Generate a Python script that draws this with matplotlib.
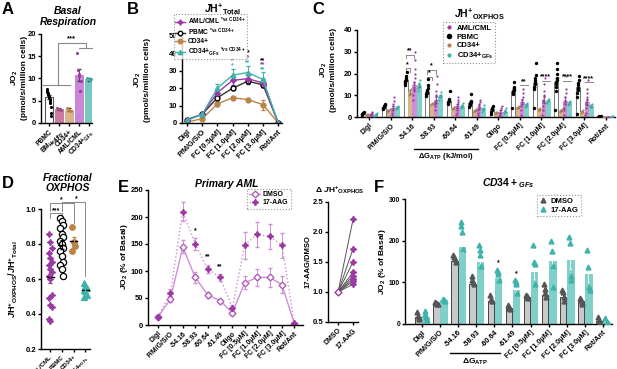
import numpy as np
import matplotlib
matplotlib.use("Agg")
import matplotlib.pyplot as plt
from matplotlib.lines import Line2D

plt.rcParams.update({
    'font.family': ['Liberation Sans', 'DejaVu Sans'],
    'font.weight': 'bold',
    'axes.labelweight': 'bold',
    'mathtext.fontset': 'custom',
    'mathtext.rm': 'Liberation Sans:bold',
    'mathtext.it': 'Liberation Sans:italic:bold',
    'mathtext.bf': 'Liberation Sans:bold',
    'mathtext.default': 'rm',
    'axes.linewidth': 1.0,
    'xtick.major.width': 1.0, 'ytick.major.width': 1.0,
    'xtick.major.size': 2.5, 'ytick.major.size': 2.5,
    'xtick.major.pad': 1.2, 'ytick.major.pad': 1.0,
    'xtick.labelsize': 5, 'ytick.labelsize': 5.5,
})

# ---------------- DATA ----------------
# Panel A
a_cats = ["PBMC", "BM$_{Healthy}$", "CD34+", "AML/CML", "CD34+$_{GFs}$"]
a_mean = [5.8, 3.1, 3.0, 10.8, 9.8]
a_sem = [0.5, 0.2, 0.3, 1.3, 0.3]
a_pts = [[7.6, 7.3, 7.0, 6.8, 6.6, 6.3, 6.0, 5.7, 5.4, 5.0, 4.6, 3.6, 2.3, 1.6],
         [3.3, 3.1, 2.9],
         [3.3, 3.0, 2.7],
         [15.7, 12.0, 11.0, 10.5, 7.1, 9.5],
         [10.2, 9.8, 9.6, 9.9]]

# Panel B
b_cats = ["Digl", "P/M/G/S/O", "FC [0.5\u03bcM]", "FC [1.0\u03bcM]", "FC [2.0\u03bcM]", "FC [3.0\u03bcM]", "Rot/Ant"]
b_aml = [1.8, 5.0, 17.5, 24.5, 25.5, 23.0, 0.2]
b_aml_err = [0.3, 0.5, 1.5, 2.5, 2.5, 2.5, 0.1]
b_pbmc = [2.0, 5.0, 14.5, 20.0, 24.0, 22.0, 0.2]
b_pbmc_err = [0.3, 0.5, 1.0, 1.0, 1.5, 1.5, 0.1]
b_cd34 = [0.5, 2.5, 11.0, 14.5, 13.5, 10.5, 0.1]
b_cd34_err = [0.2, 0.4, 1.0, 0.8, 0.8, 3.0, 0.1]
b_gfs = [1.5, 5.0, 20.0, 27.5, 29.0, 25.0, 0.2]
b_gfs_err = [0.3, 0.5, 2.5, 3.5, 4.0, 4.5, 0.1]

# Panel C
c_cats = ["Digl", "P/M/G/S/O", "-54.16", "-58.93", "-60.64", "-61.49", "Oligo",
          "FC [0.5\u03bcM]", "FC [1.0\u03bcM]", "FC [2.0\u03bcM]", "FC [3.0\u03bcM]", "Rot/Ant"]
c_pbmc = [1.5, 4.5, 17.0, 11.5, 7.5, 6.5, 3.5, 12.0, 15.5, 16.0, 14.0, 0.3]
c_cd34 = [1.0, 3.0, 11.5, 6.0, 4.0, 3.0, 2.0, 4.5, 3.5, 3.0, 2.5, 0.1]
c_aml = [1.2, 4.0, 14.5, 8.0, 5.0, 4.5, 2.5, 7.0, 8.0, 7.5, 7.0, 0.1]
c_gfs = [1.0, 4.5, 14.5, 9.5, 5.0, 3.5, 2.5, 5.5, 7.5, 6.5, 5.0, 0.2]
c_pbmc_pts = [[0.8, 1.2, 1.5, 1.8, 2.0, 2.2], [3.5, 4.0, 4.5, 5.0, 5.5, 6.0],
              [14.5, 15.5, 16.0, 16.5, 17.0, 17.5, 18.0, 19.0, 20.5],
              [9.5, 10.5, 11.0, 11.5, 12.0, 12.5, 13.5, 14.5, 17.5],
              [6.0, 6.5, 7.0, 7.5, 8.0, 8.5, 12.0], [4.5, 5.5, 6.0, 6.5, 7.0, 7.5, 10.5],
              [1.5, 2.5, 3.0, 3.5, 4.0, 5.0], [4.0, 10.5, 11.0, 12.0, 12.5, 13.0, 14.0, 16.0],
              [4.0, 13.0, 14.0, 15.0, 16.0, 17.0, 18.0, 19.5, 25.0],
              [3.0, 12.0, 14.0, 15.0, 16.0, 17.0, 18.0, 20.0, 22.0, 25.0],
              [1.5, 9.0, 11.0, 12.5, 13.5, 14.5, 15.5, 17.0, 19.0], [0.1, 0.3, 0.5]]
c_cd34_pts = [[0.6, 1.0, 1.4], [2.5, 3.0, 3.5], [10.0, 11.5, 13.0], [5.5, 6.0, 6.5],
              [3.5, 4.0, 4.5], [2.5, 3.0, 3.5], [1.5, 2.0, 2.5], [4.0, 4.5, 5.0],
              [3.0, 3.5, 4.0], [2.5, 3.0, 3.5], [2.0, 2.5, 3.0], [0.0, 0.1, 0.2]]
c_aml_pts = [[0.3, 0.8, 1.0, 1.5, 2.0, 2.5], [1.0, 2.0, 3.0, 4.0, 5.0, 6.0, 7.5, 9.0],
             [8, 10, 12, 13, 14, 15, 16, 18, 20, 22, 26, 30], [3, 5, 6, 7, 8, 9, 10, 12, 15, 19],
             [1, 2, 3, 4, 5, 6, 7, 8, 9], [1, 2, 3, 4, 5, 6, 7, 8], [0.5, 1, 2, 3, 4, 5],
             [1, 3, 5, 6, 7, 8, 9, 11, 13], [1, 3, 5, 7, 8, 9, 10, 12, 15, 18],
             [1, 3, 4, 6, 7, 8, 9, 11, 13, 19], [1, 2, 4, 6, 7, 8, 9, 11, 13, 17], [0, 0.1, 0.2]]
c_gfs_pts = [[0.5, 1.0, 1.2, 1.5, 2.0], [3.8, 4.2, 4.5, 4.8, 5.0], [12, 13.5, 14.5, 15.5, 17],
             [8, 9, 9.5, 10, 11.5], [4, 4.5, 5, 5.5, 6.5], [2.5, 3, 3.5, 4, 5.5], [2, 2.5, 2.8, 3, 4],
             [4.5, 5, 5.5, 6, 6.5], [6.5, 7, 7.5, 8, 8.5], [5.5, 6, 6.5, 7, 7.5], [4.5, 5, 5, 5.5, 6],
             [0.1, 0.2, 0.3]]

# Panel D
d_cats = ["AML/CML", "PBMC", "CD34+", "CD34+$_{GFs}$"]
d_aml = [0.86, 0.81, 0.78, 0.75, 0.72, 0.70, 0.68, 0.66, 0.64, 0.62, 0.60, 0.51, 0.49, 0.45, 0.44, 0.37, 0.36]
d_pbmc = [0.95, 0.93, 0.91, 0.89, 0.86, 0.84, 0.82, 0.80, 0.78, 0.76, 0.73, 0.70, 0.68, 0.66, 0.62]
d_cd34 = [0.90, 0.81, 0.79, 0.76]
d_gfs = [0.58, 0.56, 0.55, 0.54, 0.53, 0.51, 0.50]

# Panel E
e_cats = c_cats
e_dmso = [15, 48, 145, 88, 56, 45, 23, 78, 88, 88, 75, 2]
e_dmso_err = [3, 6, 12, 10, 6, 4, 4, 12, 16, 18, 16, 1]
e_aag = [15, 60, 210, 150, 104, 88, 32, 148, 168, 164, 148, 3]
e_aag_err = [3, 7, 17, 12, 8, 6, 5, 25, 23, 23, 23, 1]
e_right_cats = ["DMSO", "17-AAG"]
e_right_aag = [2.21, 1.72, 1.50, 1.33, 1.27, 1.22, 1.18, 1.13]

# Panel F
f_cats = ["Digl", "P/M/G/S/O", "-54.16", "-58.93", "-60.64", "-61.49",
          "FC [0.5\u03bcM]", "FC [1.0\u03bcM]", "FC [2.0\u03bcM]", "FC [3.0\u03bcM]", "Rot/Ant"]
f_dmso = [18, 50, 152, 95, 55, 38, 64, 70, 66, 56, 8]
f_aag = [18, 57, 186, 150, 110, 82, 126, 152, 154, 121, 5]
f_dmso_pts = [[30, 20, 15, 12], [53, 50, 48, 47], [165, 160, 155, 150], [115, 105, 100, 95],
              [70, 60, 55], [45, 42, 38, 35], [70, 68, 65, 62], [95, 85, 75, 65],
              [82, 78, 65, 55], [62, 58, 52, 48], [18, 10, 5, 2]]
f_aag_pts = [[32, 25, 18, 10], [60, 58, 56], [245, 235, 220, 180], [190, 178, 165, 140],
             [130, 125, 120, 105], [105, 100, 95, 75], [190, 150, 145, 95], [200, 175, 140, 90],
             [208, 195, 115, 105], [177, 137, 88, 82], [15, 5, 2]]

# ---------------- STYLE ----------------
MAG = "#9b3aa3"
MAG_L = "#cf8fd8"
TEAL = "#3fb3aa"
TEAL_L = "#7fd0c8"
TAN = "#b98448"
TAN_L = "#d8b58c"
ROSE = "#c97ca0"
GRAY_L = "#c9c9c9"
LAB = 6
LEG = 5

W, H = 617, 369
fig = plt.figure(figsize=(W / 100, H / 100), dpi=100)


def axpx(l, r, t, b):
    ax = fig.add_axes([l / W, 1 - b / H, (r - l) / W, (b - t) / H])
    ax.spines[['top', 'right']].set_visible(False)
    ax.patch.set_alpha(0)
    return ax


def ftext(x, y, s, **kw):
    return fig.text(x / W, 1 - y / H, s, **kw)


def rot_labels(ax, labels, fs=5):
    ax.set_xticks(np.arange(len(labels)))
    ax.set_xticklabels(labels, rotation=45, ha='right', rotation_mode='anchor', fontsize=fs)


def spread(n, w):
    if n == 1:
        return np.zeros(1)
    return np.linspace(-w, w, n)


def sem(v):
    v = np.asarray(v, float)
    return v.std() / np.sqrt(len(v))


def dotted_legend(handles, labels, x, y, fs=LEG, **kw):
    opts = dict(loc='upper left', bbox_to_anchor=(x / W, 1 - y / H), fontsize=fs, frameon=True, fancybox=False,
                edgecolor='#777777', borderpad=0.3, labelspacing=0.25, handlelength=1.6, handletextpad=0.4,
                borderaxespad=0)
    opts.update(kw)
    leg = fig.legend(handles, labels, **opts)
    leg.get_frame().set_linestyle(':')
    leg.get_frame().set_linewidth(0.8)
    return leg


JO2 = r"$\mathit{J}$O$_2$"

# ---------------- A ----------------
axA = axpx(41, 92, 34, 123)
xa = np.arange(len(a_cats))
a_fill = ["white", ROSE, TAN_L, "#c987d6", "#72c9c1"]
a_dot = ["black", "#a0507a", TAN, MAG, TEAL]
axA.bar(xa, a_mean, width=0.72, color=a_fill, edgecolor=["#555555", ROSE, TAN_L, "#c987d6", "#72c9c1"],
        linewidth=0.8)
axA.errorbar(xa, a_mean, yerr=a_sem, fmt='none', ecolor="#444444", capsize=1.5, elinewidth=0.7)
for i, pts in enumerate(a_pts):
    axA.scatter(i + spread(len(pts), 0.22), pts, s=5, color=a_dot[i], zorder=3, linewidths=0)
axA.set_xlim(-0.8, 4.3)
axA.set_ylim(0, 20)
axA.set_yticks([0, 5, 10, 15, 20])
rot_labels(axA, a_cats, fs=4.8)
bk = dict(color="#888888", lw=0.8, clip_on=False)
axA.plot([-0.6, 2.1], [8.6, 8.6], **bk)
axA.plot([0.9, 0.9, 3.7, 3.7], [8.6, 18.0, 18.0, 16.9], **bk)
axA.plot([3.0, 4.3], [16.9, 16.9], **bk)
axA.text(2.2, 18.1, "***", ha='center', va='bottom', fontsize=5.5)
ftext(19, 78, JO2 + "\n(pmol/s/million cells)", rotation=90, ha='center', va='center', fontsize=LAB,
      linespacing=1.25)
ftext(68, 16.5, "Basal\nRespiration", ha='center', va='center', fontsize=7.5, style='italic', linespacing=1.1)

# ---------------- B ----------------
axB = axpx(182, 282, 36, 123)
xb = np.arange(len(b_cats))
star4 = (4, 1, 0)
axB.errorbar(xb, b_cd34, yerr=b_cd34_err, color=TAN, marker='o', ms=3.5, lw=1, capsize=1.5, elinewidth=0.7)
axB.errorbar(xb, b_pbmc, yerr=b_pbmc_err, color='#333333', marker='o', ms=3.5, mfc='white', mec='black', mew=1,
             lw=1, capsize=1.5, elinewidth=0.7)
axB.errorbar(xb, b_aml, yerr=b_aml_err, color=MAG, marker=star4, ms=4.5, lw=1, capsize=1.5, elinewidth=0.7)
axB.errorbar(xb, b_gfs, yerr=b_gfs_err, color=TEAL, marker='^', ms=3.5, lw=1, capsize=1.5, elinewidth=0.7)
axB.set_xlim(-0.33, 6.25)
axB.set_ylim(0, 50)
axB.set_yticks([0, 10, 20, 30, 40, 50])
rot_labels(axB, b_cats, fs=5.3)
for (xi, yi, s, c) in [(3, 36.0, "*", MAG), (3, 32.8, "*", TEAL), (4, 40.3, "*", "black"), (4, 37.3, "**", MAG),
                        (4, 34.5, "**", TEAL), (5, 36.0, "**", "black"), (5, 33.2, "**", MAG), (5, 30.5, "**", TEAL)]:
    axB.text(xi, yi, s, color=c, ha='center', va='center', fontsize=4.8)
ftext(142, 80, JO2 + "\n(pmol/s/million cells)", rotation=90, ha='center', va='center', fontsize=LAB,
      linespacing=1.25)
ftext(222, 9, r"$\mathit{J}$H$^{+}$$_{Total}$", ha='center', va='center', fontsize=7.5)
hB = [Line2D([], [], color=MAG, marker=star4, ms=4, lw=1),
      Line2D([], [], color='#333333', marker='o', ms=3.2, mfc='white', mec='black', lw=1),
      Line2D([], [], color=TAN, marker='o', ms=3.2, lw=1),
      Line2D([], [], color=TEAL, marker='^', ms=3.2, lw=1)]
lB = [r"AML/CML $^{*vs\ CD34+}$", r"PBMC $^{*vs\ CD34+}$", "CD34+", r"CD34+$_{GFs}$ $^{*vs\ CD34+}$"]
dotted_legend(hB, lB, 174, 14, fs=4.8, labelspacing=0.02, borderpad=0.2, handlelength=1.5)

# ---------------- C ----------------
axC = axpx(357, 615, 30, 117)
xc = np.arange(len(c_cats))
bw = 0.18
series_c = [(c_pbmc, c_pbmc_pts, -0.3, "white", "#777777", "black"),
            (c_cd34, c_cd34_pts, -0.1, TAN_L, TAN_L, TAN),
            (c_aml, c_aml_pts, 0.1, MAG_L, MAG_L, MAG),
            (c_gfs, c_gfs_pts, 0.3, TEAL_L, TEAL_L, TEAL)]
for means, pts, off, fc, ec, dc in series_c:
    axC.bar(xc + off, means, width=bw, color=fc, edgecolor=ec, linewidth=0.7)
    axC.errorbar(xc + off, means, yerr=[sem(p) for p in pts], fmt='none', ecolor="#555555", capsize=0.8,
                 elinewidth=0.5)
    for i, p in enumerate(pts):
        ms = 6 if dc == "black" else 2.5
        axC.scatter(i + off + spread(len(p), 0.05), p, s=ms, color=dc, zorder=3, linewidths=0)
axC.set_xlim(-0.56, 11.42)
axC.set_ylim(0, 40)
axC.set_yticks([0, 10, 20, 30, 40])
rot_labels(axC, c_cats)
bkc = dict(color="#888888", lw=0.7, clip_on=False)
for (i, y1, y2, s) in [(2, 28.5, 22.3, ("**", "*")), (3, 21.5, 18.3, ("*", "*"))]:
    axC.plot([i - 0.3, i - 0.3, i + 0.1, i + 0.1], [y1 - 1.5, y1, y1, y1 - 1.5], **bkc)
    axC.text(i - 0.1, y1 + 0.3, s[0], ha='center', va='bottom', fontsize=5)
    axC.plot([i - 0.3, i - 0.3, i - 0.1, i - 0.1], [y2 - 1.5, y2, y2, y2 - 1.5], **bkc)
    axC.text(i - 0.2, y2 + 0.3, s[1], ha='center', va='bottom', fontsize=5)
for (i, y, s) in [(7, 14.5, "**"), (8, 16.5, "****"), (9, 16.5, "****"), (10, 16.0, "****")]:
    axC.plot([i + 0.02, i + 0.38], [y, y], **bkc)
    axC.text(i + 0.2, y + 0.2, s, ha='center', va='bottom', fontsize=5)
ftext(328, 70, JO2 + "\n(pmol/s/million cells)", rotation=90, ha='center', va='center', fontsize=LAB,
      linespacing=1.25)
ftext(479, 14, r"$\mathit{J}$H$^{+}$$_{OXPHOS}$", ha='center', va='center', fontsize=7.5)
fig.add_artist(Line2D([414 / W, 478 / W], [1 - 149 / H, 1 - 149 / H], color='black', lw=1))
ftext(446, 157, r"$\Delta$G$_{ATP}$ (kJ/mol)", ha='center', va='center', fontsize=5.5)
hC = [Line2D([], [], ls='', marker='o', ms=2, color=MAG),
      Line2D([], [], ls='', marker='o', ms=3, color='black'),
      Line2D([], [], ls='', marker='o', ms=2, color=TAN),
      Line2D([], [], ls='', marker='o', ms=2, color=TEAL)]
dotted_legend(hC, ["AML/CML", "PBMC", "CD34+", r"CD34+$_{GFs}$"], 443, 22, fs=5.5, handlelength=1.0,
              handletextpad=0.5, labelspacing=0.2)

# ---------------- D ----------------
axD = axpx(41, 90, 209, 349)
d_sets = [(d_aml, MAG, star4, MAG, 4.5), (d_pbmc, 'white', 'o', 'black', 4.5),
          (d_cd34, TAN, 'o', TAN, 4), (d_gfs, TEAL, '^', TEAL, 4)]
for i, (vals, fc, mk, ec, ms) in enumerate(d_sets):
    n = len(vals)
    xs = i + np.array([((k % 3) - 1) * 0.13 for k in range(n)])
    axD.plot(xs, vals, ls='', marker=mk, mfc=fc, mec=ec, ms=ms, mew=0.9, zorder=3)
    m = np.mean(vals)
    axD.plot([i - 0.3, i + 0.3], [m, m], color='black', lw=1, zorder=4)
    axD.errorbar([i], [m], yerr=[sem(vals)], fmt='none', ecolor=ec if ec != 'white' else 'black', capsize=1.5,
                 elinewidth=0.8, zorder=4)
axD.set_xlim(-0.77, 3.4)
axD.set_ylim(0.2, 1.0)
axD.set_yticks([0.2, 0.4, 0.6, 0.8, 1.0])
axD.set_yticklabels(["0.2", "0.4", "0.6", "0.8", "1.0"])
rot_labels(axD, d_cats, fs=4.3)
bkd = dict(color="#888888", lw=0.7, clip_on=False)
axD.plot([0, 0, 1, 1], [0.95, 0.975, 0.975, 0.95], **bkd)
axD.text(0.5, 0.972, "***", ha='center', va='bottom', fontsize=5)
axD.plot([0, 0, 2, 2], [0.99, 1.035, 1.035, 0.92], **bkd)
axD.text(1.0, 1.035, "*", ha='center', va='bottom', fontsize=5)
axD.plot([1, 1, 3, 3], [0.99, 1.04, 1.04, 0.62], **bkd)
axD.text(2.2, 1.04, "*", ha='center', va='bottom', fontsize=5)
ftext(13, 279, r"$\mathit{J}$H$^{+}$$_{OXPHOS}$/$\mathit{J}$H$^{+}$$_{Total}$", rotation=90, ha='center',
      va='center', fontsize=6.5)
ftext(68, 183, "Fractional\nOXPHOS", ha='center', va='center', fontsize=7.5, style='italic', linespacing=1.1)

# ---------------- E main ----------------
axE = axpx(148, 303, 190, 325)
xe = np.arange(len(e_cats))
axE.errorbar(xe, e_dmso, yerr=e_dmso_err, color=MAG_L, marker='D', ms=3.5, mfc='white', mec="#b060b8", mew=1,
             lw=1, capsize=1.5, elinewidth=0.7, ecolor=MAG_L)
axE.errorbar(xe, e_aag, yerr=e_aag_err, color=MAG_L, ls=':', marker=star4, ms=4.5, mfc=MAG, mec=MAG,
             lw=1, capsize=1.5, elinewidth=0.7, ecolor=MAG_L)
axE.set_xlim(-0.81, 11.7)
axE.set_ylim(0, 250)
axE.set_yticks([0, 50, 100, 150, 200, 250])
rot_labels(axE, e_cats, fs=5)
for (xi, yi, s) in [(3, 168, "*"), (4, 120, "**"), (5, 101, "**")]:
    axE.text(xi, yi, s, ha='center', va='bottom', fontsize=5)
ftext(124, 257, JO2 + " (% of Basal)", rotation=90, ha='center', va='center', fontsize=LAB)
ftext(227, 184, "Primary AML", ha='center', va='center', fontsize=7.5, style='italic')
hE = [Line2D([], [], color=MAG_L, marker='D', ms=3.5, mfc='white', mec="#b060b8", lw=1),
      Line2D([], [], color=MAG_L, ls=':', marker=star4, ms=4.5, mfc=MAG, mec=MAG, lw=1)]
dotted_legend(hE, ["DMSO", "17-AAG"], 247, 189, fs=5, labelspacing=0.2, borderpad=0.3)

# ---------------- E right ----------------
axE2 = axpx(328, 358, 202, 322)
for v in e_right_aag:
    axE2.plot([0, 1], [1.0, v], color='#555555', lw=0.7)
axE2.plot([1] * len(e_right_aag), e_right_aag, ls='', marker=star4, ms=4.5, color=MAG)
axE2.plot([0], [1.0], ls='', marker='D', ms=3.5, mfc='white', mec=MAG, mew=1)
axE2.set_xlim(-0.67, 1.33)
axE2.set_ylim(0.5, 2.5)
axE2.set_yticks([0.5, 1.0, 1.5, 2.0, 2.5])
axE2.set_yticklabels(["0.5", "1.0", "1.5", "2.0", "2.5"])
rot_labels(axE2, e_right_cats, fs=5)
ftext(308, 262, "17-AAG/DMSO", rotation=90, ha='center', va='center', fontsize=5.5)
ftext(340, 190, r"$\mathit{\Delta}$ $\mathit{J}$H$^{+}$$_{OXPHOS}$", ha='center', va='center', fontsize=6)

# ---------------- F ----------------
axF = axpx(405, 612, 199, 324)
xf = np.arange(len(f_cats))
axF.bar(xf - 0.2, f_dmso, width=0.36, color=GRAY_L, edgecolor="#444444", linewidth=0.7)
axF.bar(xf + 0.2, f_aag, width=0.36, color=TEAL_L, edgecolor=TEAL_L, linewidth=0.7)
axF.errorbar(xf - 0.2, f_dmso, yerr=[sem(p) for p in f_dmso_pts], fmt='none', ecolor="#444444", capsize=1,
             elinewidth=0.6)
axF.errorbar(xf + 0.2, f_aag, yerr=[sem(p) for p in f_aag_pts], fmt='none', ecolor="white", capsize=1,
             elinewidth=0.6)
for i, p in enumerate(f_dmso_pts):
    axF.plot(i - 0.2 + spread(len(p), 0.06), p, ls='', marker='^', ms=3.5, color="#555555", zorder=3)
for i, p in enumerate(f_aag_pts):
    axF.plot(i + 0.2 + spread(len(p), 0.06), p, ls='', marker='^', ms=3.5, color=TEAL, zorder=3)
axF.set_xlim(-0.94, 10.5)
axF.set_ylim(0, 300)
axF.set_yticks([0, 100, 200, 300])
axF.tick_params(axis='y', labelsize=4.8)
rot_labels(axF, f_cats, fs=5.2)
axF.text(4.2, 138, "*", ha='center', va='bottom', fontsize=5)
axF.text(5.2, 112, "*", ha='center', va='bottom', fontsize=5)
ftext(383, 262, JO2 + " (% of Basal)", rotation=90, ha='center', va='center', fontsize=LAB)
ftext(508, 183, r"$\mathit{CD34+}$$_{\mathit{GFs}}$", ha='center', va='center', fontsize=7.5)
fig.add_artist(Line2D([450 / W, 500 / W], [1 - 353 / H, 1 - 353 / H], color='black', lw=1))
ftext(475, 362, r"$\Delta$G$_{ATP}$", ha='center', va='center', fontsize=6)
hF = [Line2D([], [], ls='', marker='^', ms=3.5, color="#555555"),
      Line2D([], [], ls='', marker='^', ms=3.5, color=TEAL)]
dotted_legend(hF, ["DMSO", "17-AAG"], 537, 195, fs=5.5, handlelength=1.0, handletextpad=0.5, labelspacing=0.2)

# ---------------- panel letters ----------------
for (x, y, s) in [(2, 2, "A"), (127, 2, "B"), (312, 2, "C"), (2, 176, "D"), (118, 180, "E"), (374, 180, "F")]:
    ftext(x, y, s, ha='left', va='top', fontsize=12, fontweight='bold')

fig.savefig("out.png", dpi=100)
